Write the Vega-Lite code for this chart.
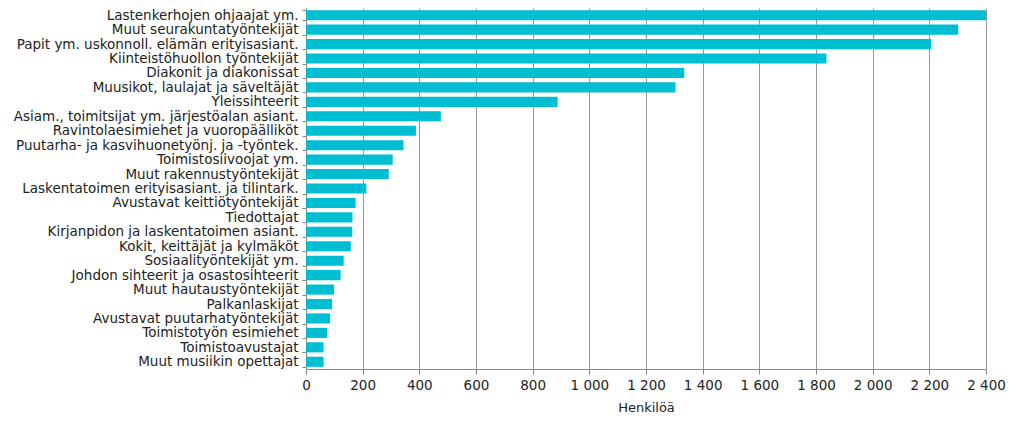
{
  "$schema": "https://vega.github.io/schema/vega-lite/v6.json",
  "width": 680,
  "height": 361,
  "autosize": {"type": "none"},
  "padding": {"left": 306, "top": 8, "right": 38, "bottom": 53},
  "background": "white",
  "config": {"view": {"stroke": null}, "font": "DejaVu Sans"},
  "data": {
    "values": [
      {"ammatti": "Lastenkerhojen ohjaajat ym.", "henkiloa": 2400},
      {"ammatti": "Muut seurakuntatyöntekijät", "henkiloa": 2302},
      {"ammatti": "Papit ym. uskonnoll. elämän erityisasiant.", "henkiloa": 2206},
      {"ammatti": "Kiinteistöhuollon työntekijät", "henkiloa": 1837},
      {"ammatti": "Diakonit ja diakonissat", "henkiloa": 1335},
      {"ammatti": "Muusikot, laulajat ja säveltäjät", "henkiloa": 1304},
      {"ammatti": "Yleissihteerit", "henkiloa": 888},
      {"ammatti": "Asiam., toimitsijat ym. järjestöalan asiant.", "henkiloa": 476},
      {"ammatti": "Ravintolaesimiehet ja vuoropäälliköt", "henkiloa": 388},
      {"ammatti": "Puutarha- ja kasvihuonetyönj. ja -työntek.", "henkiloa": 344},
      {"ammatti": "Toimistosiivoojat ym.", "henkiloa": 306},
      {"ammatti": "Muut rakennustyöntekijät", "henkiloa": 292},
      {"ammatti": "Laskentatoimen erityisasiant. ja tilintark.", "henkiloa": 213},
      {"ammatti": "Avustavat keittiötyöntekijät", "henkiloa": 175},
      {"ammatti": "Tiedottajat", "henkiloa": 164},
      {"ammatti": "Kirjanpidon ja laskentatoimen asiant.", "henkiloa": 163},
      {"ammatti": "Kokit, keittäjät ja kylmäköt", "henkiloa": 158},
      {"ammatti": "Sosiaalityöntekijät ym.", "henkiloa": 133},
      {"ammatti": "Johdon sihteerit ja osastosihteerit", "henkiloa": 122},
      {"ammatti": "Muut hautaustyöntekijät", "henkiloa": 99},
      {"ammatti": "Palkanlaskijat", "henkiloa": 92},
      {"ammatti": "Avustavat puutarhatyöntekijät", "henkiloa": 85},
      {"ammatti": "Toimistotyön esimiehet", "henkiloa": 75},
      {"ammatti": "Toimistoavustajat", "henkiloa": 62},
      {"ammatti": "Muut musiikin opettajat", "henkiloa": 62}
    ]
  },
  "mark": {"type": "bar", "color": "#00BED2", "clip": true},
  "encoding": {
    "y": {
      "field": "ammatti",
      "type": "nominal",
      "sort": null,
      "scale": {"paddingInner": 0.3, "paddingOuter": 0.15},
      "axis": {
        "title": null,
        "labelFont": "DejaVu Sans",
        "labelFontSize": 13.5,
        "labelColor": "#222222",
        "labelPadding": 4,
        "labelLimit": 400,
        "tickSize": 4,
        "tickColor": "#888888",
        "tickBand": "extent",
        "domainColor": "#888888",
        "grid": false
      }
    },
    "x": {
      "field": "henkiloa",
      "type": "quantitative",
      "scale": {"domain": [0, 2400], "nice": false},
      "axis": {
        "title": "Henkilöä",
        "titleFont": "DejaVu Sans",
        "titleFontSize": 13,
        "titleFontWeight": "normal",
        "titleColor": "#222222",
        "titlePadding": 10,
        "values": [0, 200, 400, 600, 800, 1000, 1200, 1400, 1600, 1800, 2000, 2200, 2400],
        "labelExpr": "replace(format(datum.value, ','), ',', ' ')",
        "labelFont": "DejaVu Sans",
        "labelFontSize": 13.5,
        "labelColor": "#222222",
        "labelPadding": 4,
        "labelFlush": false,
        "labelOverlap": false,
        "tickSize": 5,
        "tickColor": "#888888",
        "domainColor": "#888888",
        "grid": true,
        "gridColor": "#999999",
        "gridWidth": 1
      }
    }
  }
}
